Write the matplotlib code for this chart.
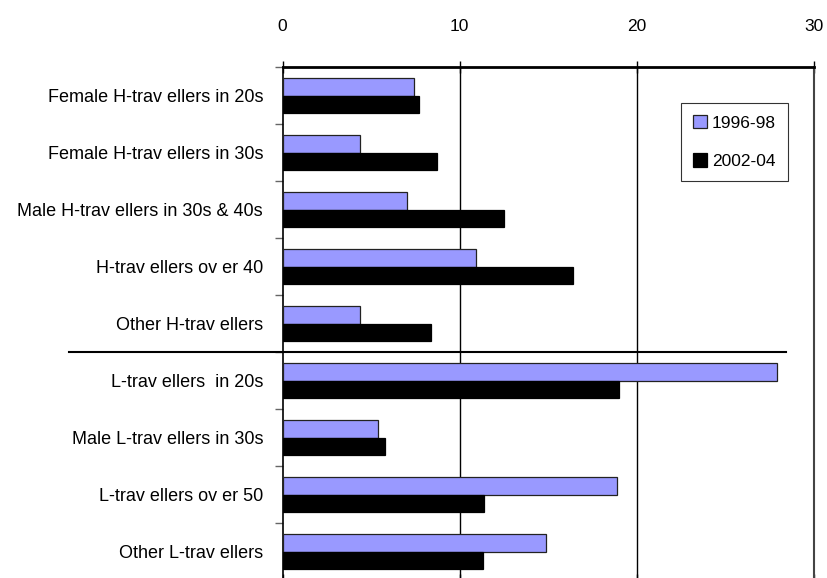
import numpy as np
import matplotlib.pyplot as plt
from matplotlib.ticker import FixedLocator

plt.rcParams['font.family'] = ['Liberation Sans', 'DejaVu Sans']

categories = ["Female H-trav ellers in 20s", "Female H-trav ellers in 30s",
              "Male H-trav ellers in 30s & 40s", "H-trav ellers ov er 40",
              "Other H-trav ellers", "L-trav ellers  in 20s",
              "Male L-trav ellers in 30s", "L-trav ellers ov er 50",
              "Other L-trav ellers"]
series_names = ["1996-98", "2002-04"]
vals_9698 = [7.4, 4.4, 7.0, 10.9, 4.4, 27.9, 5.4, 18.9, 14.9]
vals_0204 = [7.7, 8.7, 12.5, 16.4, 8.4, 19.0, 5.8, 11.4, 11.3]
xticks = [0, 10, 20, 30]

fig = plt.figure(figsize=(8.28, 5.78), dpi=100)
ax = fig.add_axes([0.3412, -0.0035, 0.6419, 0.8875])

y = np.arange(len(categories))
h = 0.31
ax.barh(y - h / 2, vals_9698, height=h, color='#9999FF', edgecolor='#222222',
        linewidth=0.9, label=series_names[0], zorder=3)
ax.barh(y + h / 2, vals_0204, height=h, color='black', edgecolor='black',
        linewidth=0.9, label=series_names[1], zorder=3)

ax.set_xlim(0, 30)
ax.set_ylim(len(categories) - 0.5, -0.5)

ax.xaxis.tick_top()
ax.set_xticks(xticks)
ax.set_xticklabels([str(t) for t in xticks], fontsize=12.5)
ax.tick_params(axis='x', which='major', direction='inout', length=9, width=1,
               color='black', pad=19, bottom=True)
for gx in xticks[1:3]:
    ax.axvline(gx, color='black', lw=1, zorder=1)

ax.set_yticks(y)
ax.set_yticklabels(categories, fontsize=13)
ax.yaxis.set_minor_locator(FixedLocator(np.arange(-0.5, len(categories), 1)))
ax.tick_params(axis='y', which='major', length=0, pad=14)
ax.tick_params(axis='y', which='minor', length=6, width=1, color='#666666',
               direction='out')

ax.spines['top'].set_linewidth(2)
ax.spines['left'].set_linewidth(1.2)
ax.spines['right'].set_color('#444444')
ax.spines['right'].set_linewidth(1.5)
ax.spines['bottom'].set_visible(False)

# divider between H and L groups
ax.plot([-12.06, 28.4], [4.5, 4.5], color='black', lw=1.5, clip_on=False, zorder=4)

leg = ax.legend(loc='upper left', bbox_to_anchor=(0.749, 0.93), fontsize=12.5,
                frameon=True, fancybox=False, edgecolor='black',
                handlelength=0.8, handleheight=0.8, handletextpad=0.3,
                labelspacing=1.3, borderpad=0.7, borderaxespad=0)
leg.get_frame().set_linewidth(0.8)

fig.savefig('out.png', dpi=100)
